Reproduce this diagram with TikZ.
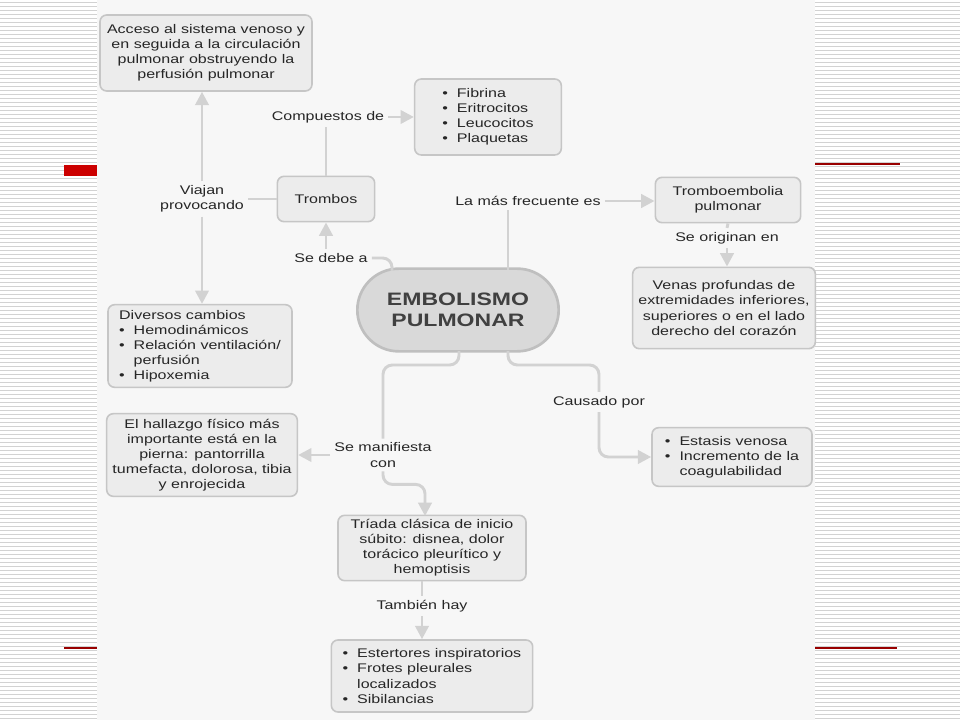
\documentclass[tikz,border=0pt]{standalone}
\usepackage{fontspec}
\setmainfont{Liberation Sans}[FakeStretch=1.28]
\usetikzlibrary{arrows.meta}

\begin{document}
\begin{tikzpicture}[x=0.75pt, y=-0.75pt, >={Triangle[length=10pt,width=10pt]},
    caja/.style={draw=gray!45, fill=gray!15, line width=1.2pt, rounded corners=5pt,
        text=black!85, font=\fontsize{9.4}{11.3}\selectfont, align=center, inner sep=2pt},
    etiqueta/.style={text=black!85, font=\fontsize{9.4}{11.3}\selectfont, align=center, inner sep=3pt},
    conector/.style={draw=gray!35, line width=2.2pt, rounded corners=7pt}]
    \useasboundingbox (0,0) rectangle (960,720);

    % fondo de la diapositiva
    \fill[white] (0,0) rectangle (960,720);
    \foreach \yy in {2,6,...,718} {
        \draw[gray!35, line width=0.5pt] (0,\yy) -- (97,\yy);
        \draw[gray!35, line width=0.5pt] (815,\yy) -- (960,\yy);
    }
    \fill[red!80!black] (64,165) rectangle (97,176);
    \draw[red!60!black, line width=1pt] (815,164) -- (900,164);
    \draw[red!60!black, line width=1pt] (64,648) -- (97,648);
    \draw[red!60!black, line width=1pt] (815,648) -- (897,648);

    % hoja escaneada
    \fill[gray!6] (97,0) rectangle (815,720);

    % nodo central
    \node[caja, fill=gray!30, draw=gray!50, line width=2pt, rounded corners=31pt,
        minimum width=151pt, minimum height=62pt, text=black!75,
        font=\fontsize{13.5}{15.8}\selectfont\bfseries] (embolismo) at (458,310) {EMBOLISMO\\PULMONAR};

    % cajas
    \node[caja, minimum width=159pt, minimum height=57pt] (acceso) at (206,53)
        {Acceso al sistema venoso y\\en seguida a la circulación\\pulmonar obstruyendo la\\perfusión pulmonar};
    \node[caja, minimum width=110pt, minimum height=57pt, align=left] (componentes) at (488,117)
        {•\ \ Fibrina\\•\ \ Eritrocitos\\•\ \ Leucocitos\\•\ \ Plaquetas};
    \node[caja, minimum width=73pt, minimum height=34pt] (trombos) at (326,199) {Trombos};
    \node[caja, minimum width=109pt, minimum height=34pt] (tromboembolia) at (728,200) {Tromboembolia\\pulmonar};
    \node[caja, minimum width=137pt, minimum height=61pt] (venas) at (724,308)
        {Venas profundas de\\extremidades inferiores,\\superiores o en el lado\\derecho del corazón};
    \node[caja, minimum width=138pt, minimum height=62pt, align=left] (diversos) at (200,346)
        {Diversos cambios\\•\ \ Hemodinámicos\\•\ \ Relación ventilación/\\\phantom{•\ \ }perfusión\\•\ \ Hipoxemia};
    \node[caja, minimum width=143pt, minimum height=62pt] (hallazgo) at (202,455)
        {El hallazgo físico más\\importante está en la\\pierna: pantorrilla\\tumefacta, dolorosa, tibia\\y enrojecida};
    \node[caja, minimum width=120pt, minimum height=44pt, align=left] (estasis) at (732,457)
        {•\ \ Estasis venosa\\•\ \ Incremento de la\\\phantom{•\ \ }coagulabilidad};
    \node[caja, minimum width=141pt, minimum height=49pt] (triada) at (432,548)
        {Tríada clásica de inicio\\súbito: disnea, dolor\\torácico pleurítico y\\hemoptisis};
    \node[caja, minimum width=151pt, minimum height=54pt, align=left] (estertores) at (432,676)
        {•\ \ Estertores inspiratorios\\•\ \ Frotes pleurales\\\phantom{•\ \ }localizados\\•\ \ Sibilancias};

    % etiquetas de los enlaces
    \node[etiqueta] (compuestos) at (328,117) {Compuestos de};
    \node[etiqueta] (viajan) at (202,199) {Viajan\\provocando};
    \node[etiqueta] (sedebe) at (331,258) {Se debe a};
    \node[etiqueta] (frecuente) at (528,201) {La más frecuente es};
    \node[etiqueta] (originan) at (727,238) {Se originan en};
    \node[etiqueta] (manifiesta) at (383,455) {Se manifiesta\\con};
    \node[etiqueta] (causado) at (599,402) {Causado por};
    \node[etiqueta] (tambien) at (422,606) {También hay};

    % puntos de salida en el nodo central
    \coordinate (pSup) at (508,270);
    \coordinate (pDebe) at (392,271);
    \coordinate (pIzq) at (459,351);
    \coordinate (pDer) at (508,351);
    \coordinate (pTriada) at (425,516);

    % enlaces
    \draw[conector] (trombos.north) -- (trombos.north |- compuestos.south);
    \draw[conector, ->] (compuestos.east) -- (componentes.west |- compuestos.east);
    \draw[conector] (trombos.west) -- (viajan.east |- trombos.west);
    \draw[conector, ->] (viajan.north) -- (viajan.north |- acceso.south);
    \draw[conector, ->] (viajan.south) -- (viajan.south |- diversos.north);
    \draw[conector, ->] (trombos.south |- sedebe.north) -- (trombos.south);
    \draw[conector] (sedebe.east) -| (pDebe);
    \draw[conector] (pSup) -- (pSup |- frecuente.south);
    \draw[conector, ->] (frecuente.east) -- (tromboembolia.west |- frecuente.east);
    \draw[conector] (tromboembolia.south) -- (originan.north);
    \draw[conector, ->] (originan.south) -- (originan.south |- venas.north);
    \draw[conector] (pIzq) -- ++(0,14) -| (manifiesta.north);
    \draw[conector, ->] (manifiesta.west) -- (hallazgo.east);
    \draw[conector, ->] (manifiesta.south) -- ++(0,13) -| (pTriada);
    \draw[conector] (pDer) -- ++(0,14) -| (causado.north);
    \draw[conector, ->] (causado.south) |- (estasis.west);
    \draw[conector] (triada.south -| tambien.north) -- (tambien.north);
    \draw[conector, ->] (tambien.south) -- (tambien.south |- estertores.north);
\end{tikzpicture}
\end{document}
